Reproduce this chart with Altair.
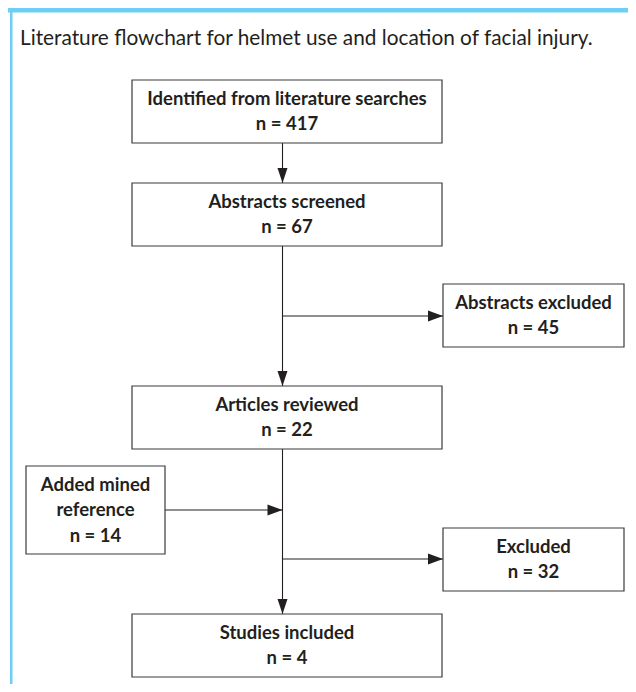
import altair as alt
import pandas as pd

# ---- content ----
title_text = "Literature flowchart for helmet use and location of facial injury."
stage_labels = ["Identified from literature searches", "Abstracts screened", "Abstracts excluded",
                "Articles reviewed", "Added mined\nreference", "Excluded", "Studies included"]
stage_counts = [417, 67, 45, 22, 14, 32, 4]

# ---- layout (page pixels) ----
box_x0 = [132, 132, 443, 132, 26, 443, 132]
box_x1 = [442, 442, 624, 442, 165, 624, 442]
box_y0 = [80, 183, 284, 386, 466, 528, 614]
box_y1 = [143, 246, 347, 449, 554, 591, 677]

seg_x0 = [282.5, 282.5, 282.5, 282.5, 165, 282.5]
seg_y0 = [143, 246, 316, 449, 510, 559]
seg_x1 = [282.5, 282.5, 443, 282.5, 282.5, 443]
seg_y1 = [183, 386, 316, 614, 510, 559]
seg_dir = ["down", "down", "right", "down", "right", "right"]

LINE_H = 25.5

W, H = 620, 676
xs = alt.Scale(domain=[8, 8 + W], range=[0, W])
ys = alt.Scale(domain=[8, 8 + H], range=[0, H])

boxes = pd.DataFrame({"x0": box_x0, "x1": box_x1, "y0": box_y0, "y1": box_y1})

rows = []
for i, (lab, cnt) in enumerate(zip(stage_labels, stage_counts)):
    lines = lab.split("\n") + [f"n = {cnt}"]
    cx = (box_x0[i] + box_x1[i]) / 2
    cy = (box_y0[i] + box_y1[i]) / 2
    n = len(lines)
    for k, ln in enumerate(lines):
        rows.append({"x": cx, "y": cy + (k - (n - 1) / 2) * LINE_H, "t": ln})
text_df = pd.DataFrame(rows)

segs = pd.DataFrame({"x0": seg_x0, "y0": seg_y0, "x1": seg_x1, "y1": seg_y1, "dir": seg_dir})

frame = pd.DataFrame({"x0": [8, 10], "x1": [8 + W, 12.5], "y0": [8, 8], "y1": [12.5, 8 + H]})
title_df = pd.DataFrame({"x": [20], "y": [45], "t": [title_text]})

INK = "#231f20"
BLUE = "#6dcff6"
FONT = "Lato"

frame_layer = alt.Chart(frame).mark_rect(color=BLUE).encode(
    x=alt.X("x0:Q", scale=xs, axis=None), x2="x1:Q",
    y=alt.Y("y0:Q", scale=ys, axis=None), y2="y1:Q")

title_layer = alt.Chart(title_df).mark_text(
    align="left", baseline="alphabetic", font=FONT, fontSize=20.8, color=INK).encode(
    x=alt.X("x:Q", scale=xs, axis=None), y=alt.Y("y:Q", scale=ys, axis=None), text="t:N")

seg_layer = alt.Chart(segs).mark_rule(color=INK, strokeWidth=1.1).encode(
    x=alt.X("x0:Q", scale=xs, axis=None), x2="x1:Q",
    y=alt.Y("y0:Q", scale=ys, axis=None), y2="y1:Q")

down_layer = alt.Chart(segs).transform_filter(alt.datum.dir == "down").mark_point(
    shape="M-1,-3L1,-3L0,0Z", filled=True, size=100, color=INK, opacity=1).encode(
    x=alt.X("x1:Q", scale=xs, axis=None), y=alt.Y("y1:Q", scale=ys, axis=None))

right_layer = alt.Chart(segs).transform_filter(alt.datum.dir == "right").mark_point(
    shape="M-3,-1.1L-3,1.1L0,0Z", filled=True, size=100, color=INK, opacity=1).encode(
    x=alt.X("x1:Q", scale=xs, axis=None), y=alt.Y("y1:Q", scale=ys, axis=None))

box_layer = alt.Chart(boxes).mark_rect(fill="white", stroke="#3a3a3a", strokeWidth=1.2).encode(
    x=alt.X("x0:Q", scale=xs, axis=None), x2="x1:Q",
    y=alt.Y("y0:Q", scale=ys, axis=None), y2="y1:Q")

text_layer = alt.Chart(text_df).mark_text(
    align="center", baseline="middle", font=FONT, fontSize=18.5, fontWeight="bold",
    color=INK).encode(
    x=alt.X("x:Q", scale=xs, axis=None), y=alt.Y("y:Q", scale=ys, axis=None), text="t:N")

chart = alt.layer(frame_layer, title_layer, seg_layer, down_layer, right_layer,
                  box_layer, text_layer).properties(
    width=W, height=H, padding=0, autosize=alt.AutoSizeParams(type="none"),
    background="white").configure_view(stroke=None)

chart.save("out.html", embed_options={"renderer": "svg", "actions": False})
